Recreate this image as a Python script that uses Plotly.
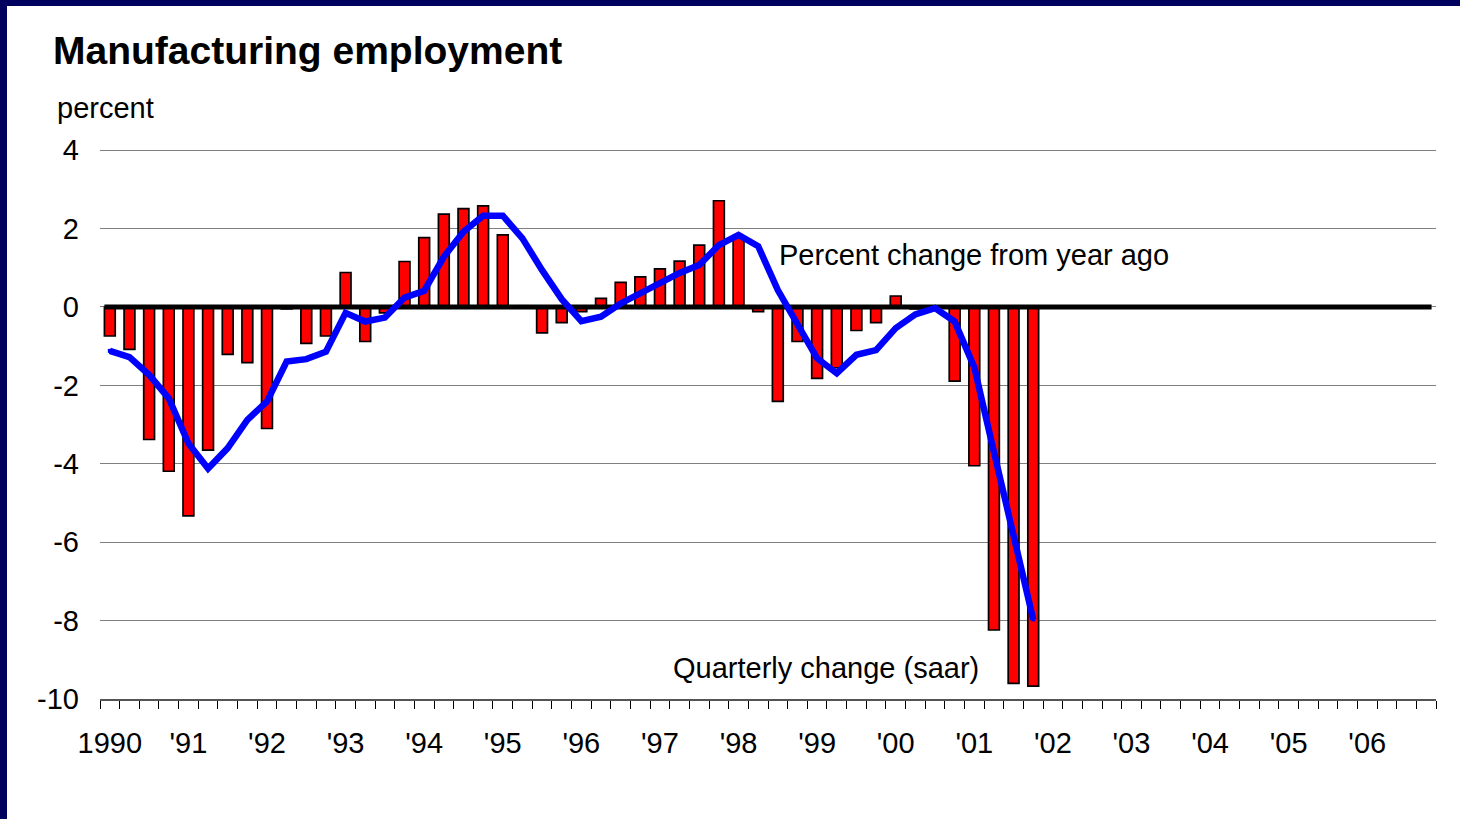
import plotly.graph_objects as go

# ---- data ----
years = list(range(1990, 2007))
quarters = [f"{y}Q{q}" for y in years for q in (1, 2, 3, 4)]
tick_labels = ["1990", "'91", "'92", "'93", "'94", "'95", "'96", "'97", "'98",
               "'99", "'00", "'01", "'02", "'03", "'04", "'05", "'06"]
y_ticks = [4, 2, 0, -2, -4, -6, -8, -10]
y_tick_labels = ["4", "2", "0", "-2", "-4", "-6", "-8", "-10"]

# Quarterly change (saar), 1990Q1 - 2001Q4
quarterly_change = [
    -0.74, -1.08, -3.38, -4.19,
    -5.33, -3.65, -1.21, -1.42,
    -3.10, -0.05, -0.93, -0.74,
    0.88, -0.88, -0.15, 1.16,
    1.77, 2.37, 2.51, 2.58,
    1.84, 0.03, -0.66, -0.40,
    -0.12, 0.22, 0.63, 0.77,
    0.97, 1.17, 1.58, 2.71,
    1.78, -0.12, -2.41, -0.88,
    -1.82, -1.55, -0.60, -0.40,
    0.28, -0.05, 0.00, -1.89,
    -4.05, -8.24, -9.60, -9.67,
]

# Percent change from year ago, 1990Q1 - 2001Q4
yoy_change = [
    -1.12, -1.28, -1.73, -2.33,
    -3.48, -4.12, -3.60, -2.88,
    -2.41, -1.39, -1.33, -1.14,
    -0.15, -0.37, -0.27, 0.24,
    0.41, 1.28, 1.92, 2.33,
    2.33, 1.75, 0.94, 0.20,
    -0.36, -0.25, 0.09, 0.35,
    0.60, 0.87, 1.07, 1.58,
    1.84, 1.55, 0.43, -0.46,
    -1.31, -1.69, -1.22, -1.10,
    -0.54, -0.19, -0.03, -0.37,
    -1.54, -3.70, -5.90, -7.97,
]

x_all = list(range(len(quarters)))
x_data = x_all[:len(quarterly_change)]
bar_w = 0.55

FONT = "Liberation Sans, Arial, sans-serif"

fig = go.Figure()

fig.add_trace(go.Bar(
    x=x_data, y=quarterly_change, width=bar_w,
    marker=dict(color="#FF0000", line=dict(color="#000000", width=1.7)),
    customdata=[quarters[i] for i in x_data],
    hovertemplate="%{customdata}: %{y}<extra>Quarterly change</extra>",
    showlegend=False,
))

# thick zero baseline spanning all quarters
fig.add_trace(go.Scatter(
    x=[x_all[0] - bar_w / 2, x_all[-1] + bar_w / 2], y=[0, 0],
    mode="lines", line=dict(color="#000000", width=5),
    hoverinfo="skip", showlegend=False,
))

fig.add_trace(go.Scatter(
    x=x_data, y=yoy_change, mode="lines+markers",
    line=dict(color="#0000FF", width=6.5),
    marker=dict(color="#0000FF", size=4, symbol="square"),
    customdata=[quarters[i] for i in x_data],
    hovertemplate="%{customdata}: %{y}<extra>Percent change from year ago</extra>",
    showlegend=False,
))

fig.update_layout(
    width=1460, height=819,
    margin=dict(l=100, r=24, t=149, b=120),
    paper_bgcolor="#FFFFFF", plot_bgcolor="#FFFFFF",
    font=dict(family=FONT, size=29, color="#000000"),
    xaxis=dict(
        range=[-0.5, len(quarters) - 0.5],
        tickvals=x_all[::4], ticktext=tick_labels,
        ticks="", showgrid=False, zeroline=False,
        showline=True, linecolor="#555555", linewidth=1.5,
        tickfont=dict(size=29, family=FONT),
        ticklabelstandoff=17,
        minor=dict(tick0=-0.5, dtick=1, ticks="outside", ticklen=8,
                   tickcolor="#000000", tickwidth=1, showgrid=False),
        fixedrange=True,
    ),
    yaxis=dict(
        range=[-10, 4.03], tickvals=y_ticks, ticktext=y_tick_labels,
        showgrid=True, gridcolor="#7F7F7F", gridwidth=1,
        zeroline=False, showline=False, ticks="",
        tickfont=dict(size=29, family=FONT),
        ticklabelstandoff=20,
        fixedrange=True,
    ),
    shapes=[
        dict(type="rect", xref="paper", yref="paper",
             x0=-0.08, x1=(7 - 100) / 1336, y0=-0.25, y1=1.30,
             fillcolor="#00005E", line=dict(width=0), layer="above"),
        dict(type="rect", xref="paper", yref="paper",
             x0=-0.08, x1=1.02, y0=(699 - 6) / 550, y1=1.30,
             fillcolor="#00005E", line=dict(width=0), layer="above"),
    ],
    annotations=[
        dict(text="<b>Manufacturing employment</b>", xref="paper", yref="paper",
             x=(51 - 100) / 1336, y=(699 - 50) / 550, xanchor="left", yanchor="middle",
             showarrow=False, font=dict(size=39, family=FONT)),
        dict(text="percent", xref="paper", yref="paper",
             x=(55 - 100) / 1336, y=(699 - 108) / 550, xanchor="left", yanchor="middle",
             showarrow=False, font=dict(size=29, family=FONT)),
        dict(text="Percent change from year ago", xref="x", yref="y",
             x=33.95, y=1.33, xanchor="left", yanchor="middle",
             showarrow=False, font=dict(size=29, family=FONT)),
        dict(text="Quarterly change (saar)", xref="x", yref="y",
             x=28.55, y=-9.21, xanchor="left", yanchor="middle",
             showarrow=False, font=dict(size=29, family=FONT)),
    ],
)

fig.write_html("out.html", config={"displayModeBar": False},
               post_script="document.body.style.margin='0';")
